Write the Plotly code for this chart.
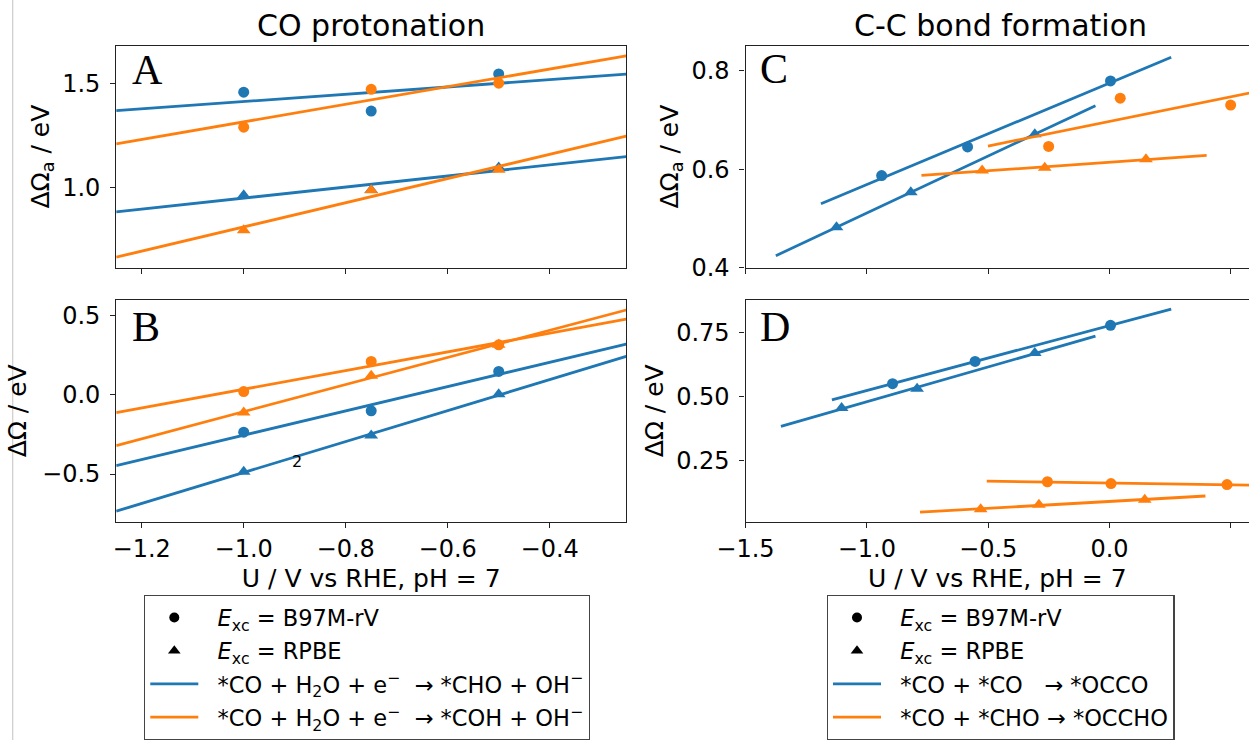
import numpy as np
import plotly.graph_objects as go

W, H = 1249, 740
BLUE = "#1f77b4"
ORANGE = "#ff7f0e"
FONT = "DejaVu Sans"

# ---------------- data ----------------
# Panel A: activation energies, CO protonation
A_U = [-1.0, -0.75, -0.5]
A_CHO_B97 = [1.457, 1.367, 1.544]
A_CHO_RPBE = [0.965, 0.990, 1.097]
A_COH_B97 = [1.290, 1.471, 1.500]
A_COH_RPBE = [0.798, 0.989, 1.087]
# Panel B: reaction energies, CO protonation
B_U = [-1.0, -0.75, -0.5]
B_CHO_B97 = [-0.236, -0.101, 0.148]
B_CHO_RPBE = [-0.485, -0.257, 0.004]
B_COH_B97 = [0.021, 0.211, 0.316]
B_COH_RPBE = [-0.112, 0.120, 0.316]
# Panel C: activation energies, C-C bond formation
C_OCCO_B97_U = [-0.939, -0.585, 0.004]
C_OCCO_B97 = [0.587, 0.645, 0.779]
C_OCCO_RPBE_U = [-1.125, -0.819, -0.308]
C_OCCO_RPBE = [0.482, 0.553, 0.671]
C_OCCHO_B97_U = [-0.251, 0.044, 0.499]
C_OCCHO_B97 = [0.646, 0.744, 0.730]
C_OCCHO_RPBE_U = [-0.525, -0.267, 0.150]
C_OCCHO_RPBE = [0.597, 0.603, 0.620]
# Panel D: reaction energies, C-C bond formation
D_OCCO_B97_U = [-0.894, -0.554, 0.004]
D_OCCO_B97 = [0.551, 0.638, 0.779]
D_OCCO_RPBE_U = [-1.104, -0.793, -0.308]
D_OCCO_RPBE = [0.456, 0.531, 0.671]
D_OCCHO_B97_U = [-0.256, 0.006, 0.484]
D_OCCHO_B97 = [0.168, 0.161, 0.157]
D_OCCHO_RPBE_U = [-0.531, -0.291, 0.145]
D_OCCHO_RPBE = [0.061, 0.078, 0.098]

# stray label in panel B
B_NOTE_TEXT = "2"
B_NOTE_X, B_NOTE_Y = -0.895, -0.422

TITLES = ["CO protonation", "C-C bond formation"]
LETTERS = ["A", "B", "C", "D"]
XLABEL = "U / V vs RHE, pH = 7"
YLABEL_A = "ΔΩ<sub>a</sub> / eV"
YLABEL_R = "ΔΩ / eV"
PAD = "\u00a0\u00a0"
LEG_B97 = PAD + "<i>E</i><sub>xc</sub> = B97M-rV"
LEG_RPBE = PAD + "<i>E</i><sub>xc</sub> = RPBE"
LEG1 = [PAD + "*CO + H<sub>2</sub>O + e<sup>−</sup>\u00a0\u00a0→ *CHO + OH<sup>−</sup>",
        PAD + "*CO + H<sub>2</sub>O + e<sup>−</sup>\u00a0\u00a0→ *COH + OH<sup>−</sup>"]
LEG2 = [PAD + "*CO + *CO\u00a0\u00a0\u00a0→ *OCCO",
        PAD + "*CO + *CHO → *OCCHO"]

EXT = 0.25  # fit line extends this far beyond the data

fig = go.Figure()


def add_set(u, e, color, symbol, xa, ya, legend=None, name=None):
    u = np.asarray(u, float)
    e = np.asarray(e, float)
    fig.add_trace(go.Scatter(
        x=u, y=e, mode="markers", xaxis=xa, yaxis=ya, showlegend=False,
        marker=dict(color=color, symbol=symbol, size=11 if symbol == "circle" else 12,
                    line=dict(width=0))))
    k, b = np.polyfit(u, e, 1)
    xs = np.array([u.min() - EXT, u.max() + EXT])
    fig.add_trace(go.Scatter(
        x=xs, y=k * xs + b, mode="lines", xaxis=xa, yaxis=ya,
        line=dict(color=color, width=2.8),
        showlegend=legend is not None, legend=legend or "legend", name=name,
        legendgroup=(legend or "") + (name or "")))


# legends: marker dummies
for lg in ["legend", "legend2"]:
    fig.add_trace(go.Scatter(x=[None], y=[None], mode="markers", name=LEG_B97,
                             marker=dict(color="black", symbol="circle", size=10),
                             legend=lg, legendgroup=lg + "b97", xaxis="x", yaxis="y"))
    fig.add_trace(go.Scatter(x=[None], y=[None], mode="markers", name=LEG_RPBE,
                             marker=dict(color="black", symbol="triangle-up", size=11),
                             legend=lg, legendgroup=lg + "rpbe", xaxis="x", yaxis="y"))

# Panel A
add_set(A_U, A_CHO_B97, BLUE, "circle", "x", "y", "legend", LEG1[0])
add_set(A_U, A_CHO_RPBE, BLUE, "triangle-up", "x", "y")
add_set(A_U, A_COH_B97, ORANGE, "circle", "x", "y", "legend", LEG1[1])
add_set(A_U, A_COH_RPBE, ORANGE, "triangle-up", "x", "y")
# Panel B
add_set(B_U, B_CHO_B97, BLUE, "circle", "x2", "y2")
add_set(B_U, B_CHO_RPBE, BLUE, "triangle-up", "x2", "y2")
add_set(B_U, B_COH_B97, ORANGE, "circle", "x2", "y2")
add_set(B_U, B_COH_RPBE, ORANGE, "triangle-up", "x2", "y2")
# Panel C
add_set(C_OCCO_B97_U, C_OCCO_B97, BLUE, "circle", "x3", "y3", "legend2", LEG2[0])
add_set(C_OCCO_RPBE_U, C_OCCO_RPBE, BLUE, "triangle-up", "x3", "y3")
add_set(C_OCCHO_B97_U, C_OCCHO_B97, ORANGE, "circle", "x3", "y3", "legend2", LEG2[1])
add_set(C_OCCHO_RPBE_U, C_OCCHO_RPBE, ORANGE, "triangle-up", "x3", "y3")
# Panel D
add_set(D_OCCO_B97_U, D_OCCO_B97, BLUE, "circle", "x4", "y4")
add_set(D_OCCO_RPBE_U, D_OCCO_RPBE, BLUE, "triangle-up", "x4", "y4")
add_set(D_OCCHO_B97_U, D_OCCHO_B97, ORANGE, "circle", "x4", "y4")
add_set(D_OCCHO_RPBE_U, D_OCCHO_RPBE, ORANGE, "triangle-up", "x4", "y4")

# ---------------- layout ----------------
def px_x(p):
    return p / W


def px_y(p):
    return 1 - p / H


LEFT_DOM = [px_x(116.2), px_x(626.2)]
RIGHT_DOM = [px_x(745.5), 1.0]
TOP_DOM = [px_y(267.7), px_y(45.5)]
BOT_DOM = [px_y(521.7), px_y(300)]

axis_common = dict(showline=True, linecolor="#222", linewidth=1.1, ticks="outside",
                   ticklen=5, tickwidth=1.1, tickcolor="#222", showgrid=False,
                   zeroline=False, tickfont=dict(family=FONT, size=24, color="black"),
                   title_font=dict(family=FONT, size=25, color="black"), automargin=False)
x_title = dict(text=XLABEL, standoff=7)

legend_common = dict(y=0, xanchor="left", yanchor="bottom",
                     bgcolor="white", bordercolor="#444", borderwidth=1.3,
                     font=dict(family=FONT, size=22.5), traceorder="grouped",
                     tracegroupgap=1, itemwidth=48)

fig.update_layout(
    width=W, height=H, margin=dict(l=0, r=0, t=0, b=0),
    paper_bgcolor="white", plot_bgcolor="white",
    font=dict(family=FONT, size=23, color="black"),
    xaxis=dict(domain=LEFT_DOM, anchor="y", range=[-1.25, -0.25], tick0=-1.2, dtick=0.2,
               showticklabels=False, mirror=True, **axis_common),
    yaxis=dict(domain=TOP_DOM, anchor="x", range=[0.619, 1.68], tick0=0, dtick=0.5,
               tickformat=".1f", mirror=True, ticklabelstandoff=5,
               title=dict(text=YLABEL_A, standoff=5), **axis_common),
    xaxis2=dict(domain=LEFT_DOM, anchor="y2", range=[-1.25, -0.25], tick0=-1.2, dtick=0.2,
                tickformat=".1f", mirror=True, title=x_title, **axis_common),
    yaxis2=dict(domain=BOT_DOM, anchor="x2", range=[-0.801, 0.599], tick0=0, dtick=0.5,
                tickformat=".1f", mirror=True, ticklabelstandoff=5,
                title=dict(text=YLABEL_R, standoff=8), **axis_common),
    xaxis3=dict(domain=RIGHT_DOM, anchor="y3", range=[-1.5, -1.5 + (W - 745.5) / 242.7],
                tick0=-1.5, dtick=0.5, showticklabels=False, mirror=True, **axis_common),
    yaxis3=dict(domain=TOP_DOM, anchor="x3", range=[0.3999, 0.851], tick0=0, dtick=0.2,
                tickformat=".1f", ticklabelstandoff=5,
                title=dict(text=YLABEL_A, standoff=5), **axis_common),
    xaxis4=dict(domain=RIGHT_DOM, anchor="y4", range=[-1.5, -1.5 + (W - 745.5) / 242.7],
                tick0=-1.5, dtick=0.5, tickformat=".1f", mirror=True,
                title=x_title, **axis_common),
    yaxis4=dict(domain=BOT_DOM, anchor="x4", range=[0.012, 0.878], tick0=0, dtick=0.25,
                tickformat=".2f", ticklabelstandoff=5,
                title=dict(text=YLABEL_R, standoff=5), **axis_common),
    legend=dict(x=px_x(144), **legend_common),
    legend2=dict(x=px_x(826.7), **legend_common),
    showlegend=True,
)

ann = []
# column titles
ann.append(dict(text=TITLES[0], x=(LEFT_DOM[0] + LEFT_DOM[1]) / 2, y=px_y(26),
                xref="paper", yref="paper", showarrow=False, xanchor="center",
                yanchor="middle", font=dict(family=FONT, size=30)))
ann.append(dict(text=TITLES[1], x=px_x(1000), y=px_y(26),
                xref="paper", yref="paper", showarrow=False, xanchor="center",
                yanchor="middle", font=dict(family=FONT, size=30)))
# panel letters
for letter, xl, yc in [(LETTERS[0], 130, 70), (LETTERS[1], 130, 327),
                       (LETTERS[2], 758, 69), (LETTERS[3], 758, 327)]:
    ann.append(dict(text=letter, x=px_x(xl), y=px_y(yc), xref="paper", yref="paper",
                    showarrow=False, xanchor="left", yanchor="middle",
                    font=dict(family="Liberation Serif", size=42, color="black")))
# stray label
ann.append(dict(text=B_NOTE_TEXT, x=B_NOTE_X, y=B_NOTE_Y, xref="x2", yref="y2",
                showarrow=False, font=dict(family=FONT, size=16, color="black")))
fig.update_layout(annotations=ann)

# faint page rule at the left edge
fig.add_shape(type="line", xref="paper", yref="paper", x0=px_x(12.7), x1=px_x(12.7),
              y0=0, y1=1, line=dict(color="#cccccc", width=1.2))

fig.write_html("out.html")
